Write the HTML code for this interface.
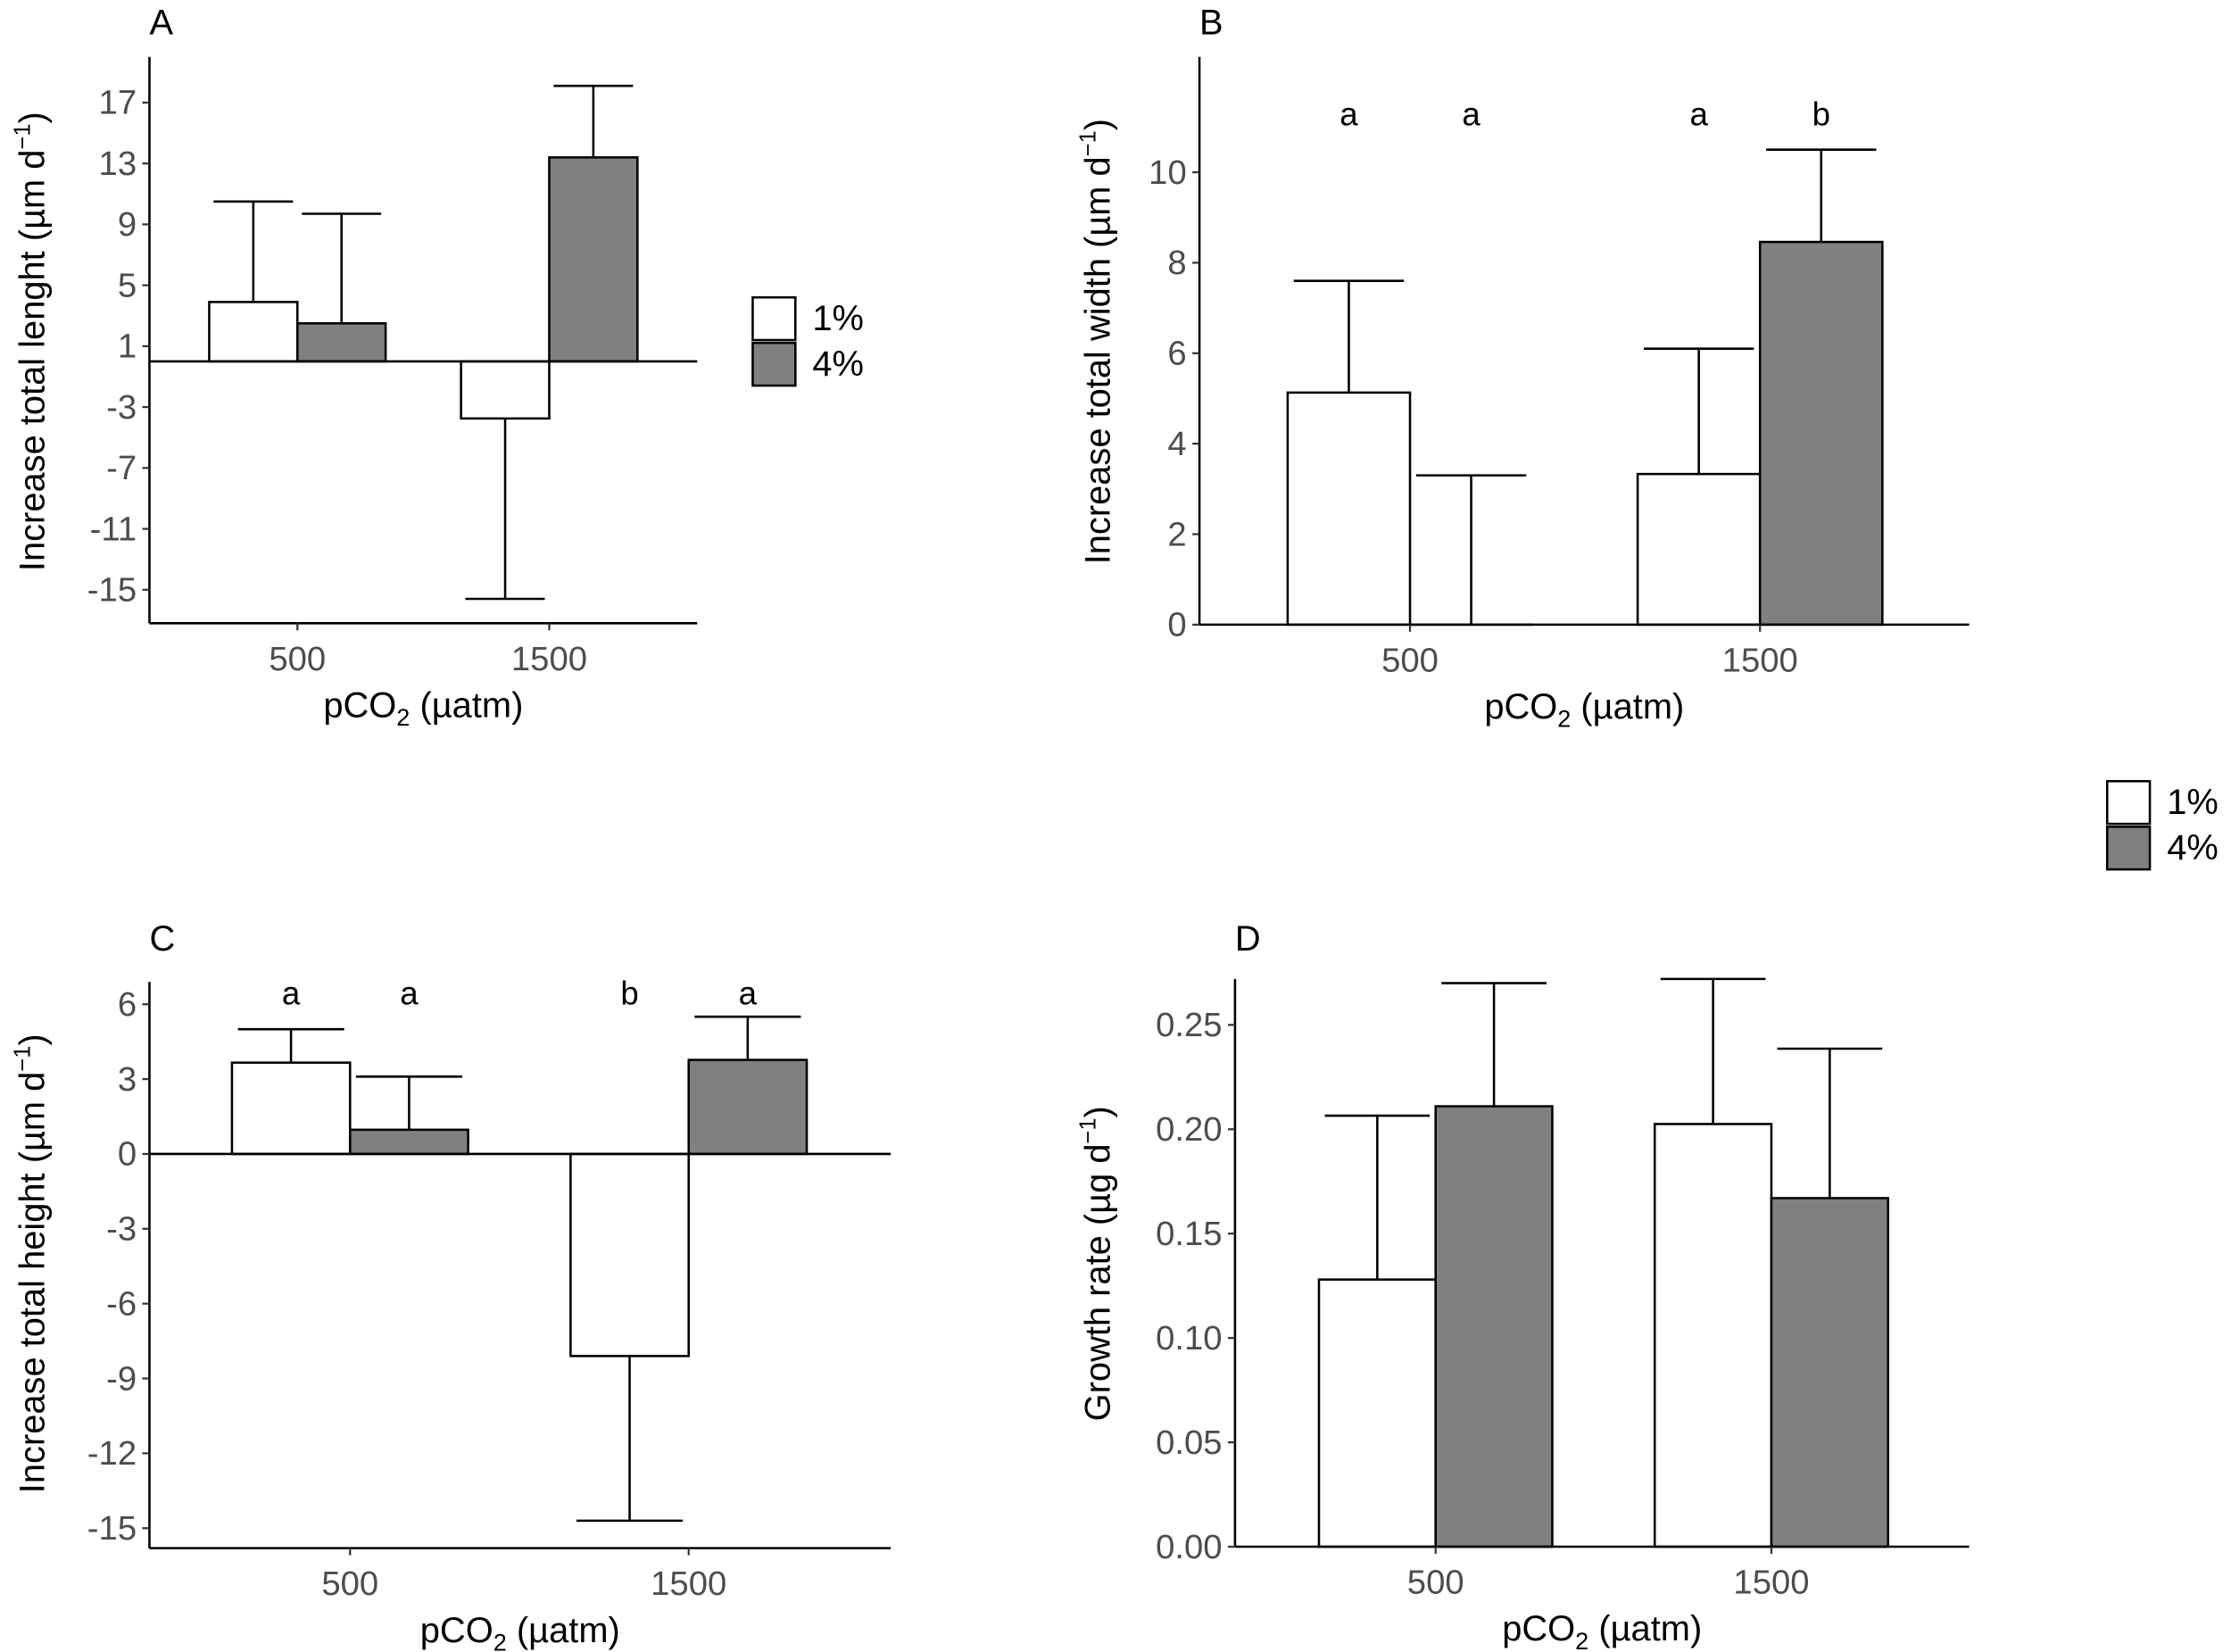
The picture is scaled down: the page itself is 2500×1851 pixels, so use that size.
<!DOCTYPE html>
<html><head><meta charset="utf-8"><style>
html,body{margin:0;padding:0;background:#fff}
svg{display:block}
text{font-family:"Liberation Sans",Arial,sans-serif}
.tick{fill:#4d4d4d;font-size:24px}
.title{fill:#000;font-size:25px}
</style></head><body>
<svg id="chart" width="2500" height="1851" viewBox="0 0 1568 1161" xmlns="http://www.w3.org/2000/svg"></svg>
<script>
const groups = ["500","1500"];
const seriesNames = ["1%","4%"];
// Panel A
const aTicks = [17,13,9,5,1,-3,-7,-11,-15];
const a1 = [3.9,-3.75], a1e = [10.5,-15.6];
const a4 = [2.5,13.4], a4e = [9.7,18.1];
// Panel B
const bTicks = [0,2,4,6,8,10];
const b1 = [5.13,3.33], b1e = [7.6,6.1];
const b4 = [0,8.46], b4e = [3.3,10.5];
const bLetters1 = ["a","a"], bLetters4 = ["a","b"];
// Panel C
const cTicks = [6,3,0,-3,-6,-9,-12,-15];
const c1 = [3.66,-8.1], c1e = [5.0,-14.7];
const c4 = [0.97,3.77], c4e = [3.1,5.5];
const cLetters1 = ["a","b"], cLetters4 = ["a","a"];
// Panel D
const dTicks = [0,0.05,0.10,0.15,0.20,0.25];
const d1 = [0.128,0.2025], d1e = [0.2065,0.272];
const d4 = [0.211,0.167], d4e = [0.27,0.2386];

const svg = document.getElementById('chart');
const NS = 'http://www.w3.org/2000/svg';
function el(tag, attrs, parent){
  const e = document.createElementNS(NS, tag);
  for (const k in attrs) e.setAttribute(k, attrs[k]);
  (parent||svg).appendChild(e); return e;
}
function panel(cfg){
  const g = el('g', {});
  
  
  const y = v => cfg.y0 + (v - cfg.vmin) * (cfg.y1 - cfg.y0) / (cfg.vmax - cfg.vmin);
  const yZero = y(0);
  const bw = cfg.bw;
  const series = [[cfg.v1, cfg.e1, '#ffffff', cfg.l1], [cfg.v4, cfg.e4, '#808080', cfg.l4]];
  series.forEach((s, si) => {
    groups.forEach((gname, gi) => {
      const cx = cfg.centers[gi];
      const left = si === 0 ? cx - bw : cx;
      const v = s[0][gi], ev = s[1][gi];
      const top = Math.min(y(v), yZero), h = Math.abs(y(v) - yZero);
      const bc = left + bw/2;
      const eb = el('path', {d:`M${bc},${y(v)}V${y(ev)}M${bc-bw*0.45},${y(ev)}H${bc+bw*0.45}`, stroke:'#000', 'stroke-width':1.6, fill:'none'}, g);
      
      
      const r = el('rect', {x:left, y:top, width:bw, height:Math.max(h,0.01), fill:s[2], stroke:'#000', 'stroke-width':1.6}, g);
      
      
      if (s[3]) {
        const t = el('text', {x:bc, y:cfg.letterY, 'font-size':23, 'text-anchor':'middle', fill:'#000'}, g);
        t.textContent = s[3][gi];
        
        
      }
    });
  });
  if (cfg.zeroLine) {
    const zl = el('line', {x1:cfg.ax, x2:cfg.axR, y1:yZero, y2:yZero, stroke:'#000', 'stroke-width':1.6}, g);
    
    
  }
  const ax = el('path', {d:`M${cfg.ax},${cfg.y1}H${cfg.axR}M${cfg.ax},${cfg.y1}V${cfg.y0}`, stroke:'#000', 'stroke-width':1.6, fill:'none'}, g);
  
  
  cfg.ticks.forEach(tv => {
    el('line', {x1:cfg.ax-5, x2:cfg.ax, y1:y(tv), y2:y(tv), stroke:'#333', 'stroke-width':1.4}, g);
    const t = el('text', {x:cfg.ax-9, y:y(tv)+8, 'text-anchor':'end', class:'tick'}, g);
    t.textContent = cfg.fmt ? cfg.fmt(tv) : tv;
    
    
  });
  groups.forEach((gname, gi) => {
    el('line', {x1:cfg.centers[gi], x2:cfg.centers[gi], y1:cfg.y1, y2:cfg.y1+5, stroke:'#333', 'stroke-width':1.4}, g);
    const t = el('text', {x:cfg.centers[gi], y:cfg.y1+33, 'text-anchor':'middle', class:'tick'}, g);
    t.textContent = gname;
    
    
  });
  const xt = el('text', {x:(cfg.ax+cfg.axR)/2, y:cfg.y1+66, 'text-anchor':'middle', class:'title'}, g);
  xt.textContent = 'pCO';
  const sub = el('tspan', {'font-size':17, dy:6}, xt); sub.textContent = '2';
  const rest = el('tspan', {dy:-6}, xt); rest.textContent = ' (µatm)';
  
  
  const yt = el('text', {x:0, y:0, 'text-anchor':'middle', class:'title', transform:`translate(${cfg.ylx},${cfg.yly}) rotate(-90)`}, g);
  yt.textContent = cfg.ylab + ' (' + cfg.unit + ' d';
  const sup = el('tspan', {'font-size':16, dy:-10}, yt); sup.textContent = '−1';
  const cl = el('tspan', {dy:10}, yt); cl.textContent = ')';
  
  
  const pt = el('text', {x:cfg.ax, y:cfg.labY, class:'title'}, g);
  pt.textContent = cfg.id;
  
  
}
panel({id:'A', ax:105, axR:490, y0:40, y1:438, vmin:20, vmax:-17.2, ticks:aTicks, centers:[209,386], bw:62,
  v1:a1, e1:a1e, v4:a4, e4:a4e, zeroLine:true, ylab:'Increase total lenght', unit:'µm', ylx:31, yly:240, labY:24});
panel({id:'B', ax:843, axR:1384, y0:40, y1:439, vmin:12.55, vmax:0, ticks:bTicks, centers:[991,1237], bw:86,
  v1:b1, e1:b1e, v4:b4, e4:b4e, l1:bLetters1, l4:bLetters4, letterY:88, ylab:'Increase total width', unit:'µm', ylx:780, yly:240, labY:24});
panel({id:'C', ax:105, axR:626, y0:690, y1:1088, vmin:6.9, vmax:-15.8, ticks:cTicks, centers:[246,484], bw:83,
  v1:c1, e1:c1e, v4:c4, e4:c4e, l1:cLetters1, l4:cLetters4, letterY:706, zeroLine:true, ylab:'Increase total height', unit:'µm', ylx:31, yly:888, labY:668});
panel({id:'D', ax:868, axR:1384, y0:688, y1:1087, vmin:0.272, vmax:0, ticks:dTicks, centers:[1009,1245], bw:82, fmt:v=>v.toFixed(2),
  v1:d1, e1:d1e, v4:d4, e4:d4e, ylab:'Growth rate', unit:'µg', ylx:780, yly:888, labY:668});
function legend(x, y, id){
  const g = el('g', {});
  
  
  seriesNames.forEach((n, i) => {
    const r = el('rect', {x:x, y:y + i*32, width:30, height:30, fill: i ? '#808080' : '#fff', stroke:'#000', 'stroke-width':1.6}, g);
    
    
    const t = el('text', {x:x+42, y:y + i*32 + 23, class:'title', 'font-size':24}, g);
    t.textContent = n;
    
    
  });
}
legend(529, 209, 'legend-a');
legend(1481, 549, 'legend-shared');
</script>
</body></html>
